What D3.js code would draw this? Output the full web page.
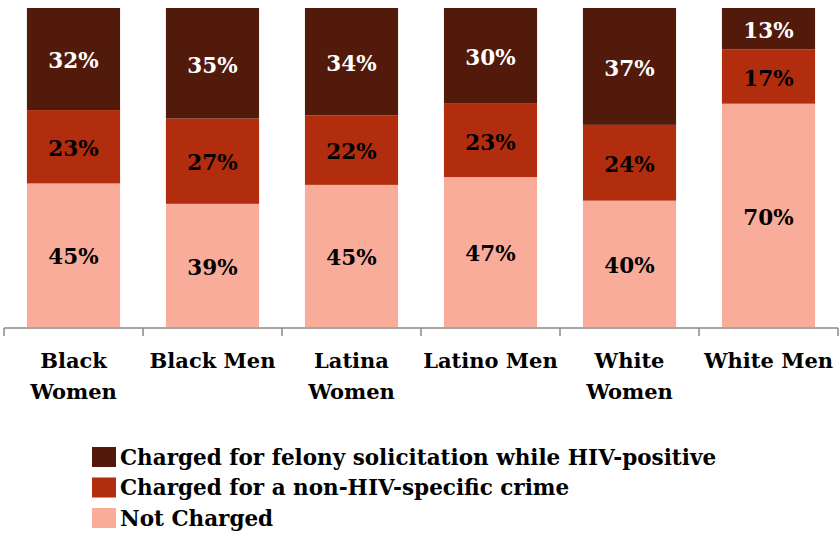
<!DOCTYPE html>
<html><head><meta charset="utf-8">
<script src="https://cdn.jsdelivr.net/npm/d3@7"></script>
<style>
body{margin:0;background:#fff;}
text{font-family:"DejaVu Serif",serif;font-weight:bold;}
</style></head>
<body>
<svg id="chart" width="840" height="535"></svg>
<script>
const categories = [["Black","Women"],["Black Men"],["Latina","Women"],["Latino Men"],["White","Women"],["White Men"]];
const seriesNames = ["Charged for felony solicitation while HIV-positive","Charged for a non-HIV-specific crime","Not Charged"];
const felony = [32,35,34,30,37,13];
const nonHIV = [23,27,22,23,24,17];
const notCharged = [45,39,45,47,40,70];
const colors = ["#521a0b","#b22d0e","#f9ac9a"];
const labelColors = ["#ffffff","#000000","#000000"];

const svg = d3.select("#chart");
const keys = categories.map((c,i)=>i);
const x = d3.scaleBand().domain(keys).range([4,838]).paddingInner(0.33).paddingOuter(0.165);
const xAxisScale = d3.scaleBand().domain(keys).range([4,838]);
const y = d3.scaleLinear().domain([0,1]).range([327,8]);

const rows = keys.map(i=>{
  const vals=[notCharged[i],nonHIV[i],felony[i]];
  const tot=d3.sum(vals);
  return {i, s0:notCharged[i]/tot, s1:nonHIV[i]/tot, s2:felony[i]/tot, v:vals};
});
const stack = d3.stack().keys(["s0","s1","s2"]);
const stacked = stack(rows);
const seriesIdx = [2,1,0];

stacked.forEach((layer,li)=>{
  const si = seriesIdx[li];
  const g = svg.append("g");
  g.selectAll("rect").data(layer).enter().append("rect")
    .attr("x",d=>x(d.data.i))
    .attr("width",x.bandwidth())
    .attr("y",d=>y(d[1]))
    .attr("height",d=>y(d[0])-y(d[1]))
    .attr("fill",colors[si]);
  g.selectAll("text").data(layer).enter().append("text")
    .attr("x",d=>x(d.data.i)+x.bandwidth()/2)
    .attr("y",d=>(y(d[0])+y(d[1]))/2+1.5)
    .attr("dy","0.36em")
    .attr("text-anchor","middle")
    .attr("font-size",21.5)
    .attr("fill",labelColors[si])
    .text(d=>d.data.v[li]+"%");
});

const ax = svg.append("g").attr("stroke","#898989").attr("stroke-width",1.5);
ax.append("line").attr("x1",4).attr("x2",838).attr("y1",328).attr("y2",328);
keys.concat([keys.length]).forEach(k=>{
  const xx = k<keys.length ? xAxisScale(k) : xAxisScale(keys.length-1)+xAxisScale.bandwidth();
  ax.append("line").attr("x1",xx).attr("x2",xx).attr("y1",328).attr("y2",336);
});
keys.forEach(k=>{
  const t = svg.append("text")
    .attr("text-anchor","middle")
    .attr("font-size",21)
    .attr("fill","#000");
  categories[k].forEach((line,j)=>{
    t.append("tspan").attr("x",xAxisScale(k)+xAxisScale.bandwidth()/2).attr("y",368+j*31).text(line);
  });
});

seriesNames.forEach((name,i)=>{
  const yy = 447+i*30.5;
  svg.append("rect").attr("x",92).attr("y",yy).attr("width",24).attr("height",20).attr("fill",colors[i]);
  svg.append("text").attr("x",120).attr("y",yy+10).attr("dy","0.36em").attr("font-size",21.5).attr("fill","#000").text(name);
});
</script>
</body></html>
